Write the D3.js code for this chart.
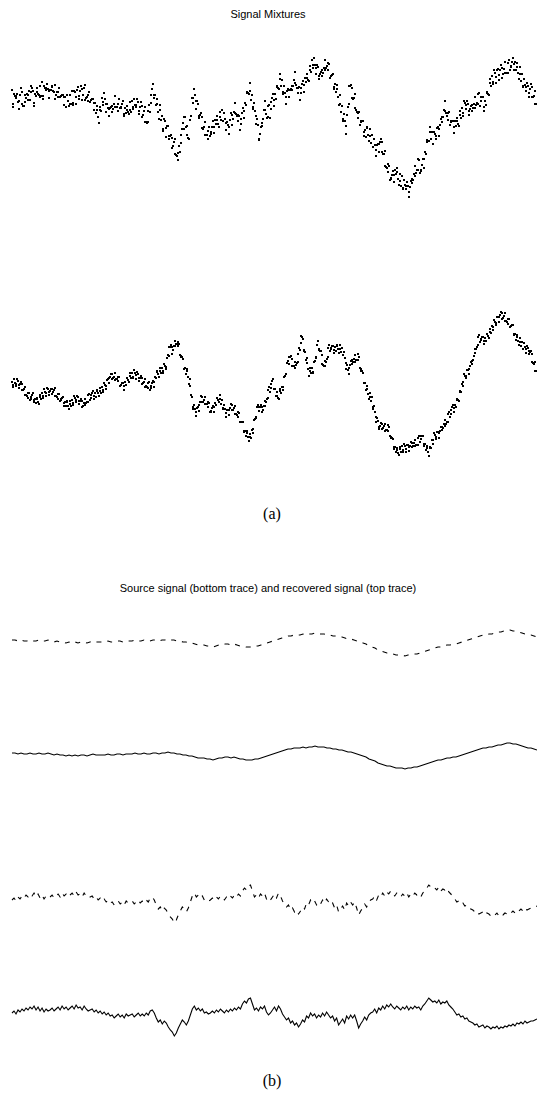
<!DOCTYPE html>
<html><head><meta charset="utf-8">
<script src="https://cdn.jsdelivr.net/npm/d3@7/dist/d3.min.js"></script>
<style>body{margin:0;background:#fff}svg{display:block}</style>
</head><body>
<script>
// Mixture 1 (dots), values in signal units (up positive)
const mixture1 = [
35,21,18,31,29,29,27,31,23,16,24,30,37,33,21,19,19,30,23,27,
31,25,30,34,25,33,39,37,34,19,22,31,29,37,33,31,30,39,28,29,
43,29,26,39,37,37,35,41,36,27,34,35,35,39,38,34,33,40,26,30,
33,28,33,37,28,29,29,30,30,20,28,28,18,30,30,24,19,30,21,21,
34,22,20,34,33,28,21,35,38,26,29,34,39,36,25,30,37,40,25,27,
28,24,30,33,23,25,25,26,26,15,22,22,12,19,15,8,2,18,15,14,
27,20,23,32,26,21,13,21,17,9,16,17,18,19,13,16,21,29,18,18,
18,14,21,26,17,18,17,21,24,9,11,17,12,19,15,13,11,23,15,13,
24,16,18,26,20,20,18,26,23,11,14,18,23,19,8,10,14,18,3,3,
2,3,14,20,13,22,30,36,41,27,30,30,20,26,21,13,6,20,15,5,
9,-4,-6,6,4,-3,-12,-1,-1,-14,-11,-11,-10,-13,-23,-21,-17,-14,-29,-30,
-31,-35,-28,-21,-27,-18,-10,-4,2,-4,8,8,-2,-1,-10,-13,-14,5,5,9,
27,22,27,36,30,24,16,24,21,7,9,10,12,8,-3,-4,-2,3,-10,-10,
-10,-14,-6,-2,-11,-9,-7,-2,4,-8,-2,5,1,9,5,1,-2,13,8,5,
15,4,4,12,6,2,-5,3,0,-9,-2,5,12,10,0,6,13,22,12,11,
9,4,10,9,-5,1,6,12,17,7,14,22,20,32,33,32,31,42,34,25,
30,18,16,22,14,9,1,6,0,-15,-14,-9,-2,2,-1,6,15,24,15,11,
7,8,19,20,7,16,23,27,31,19,25,31,26,38,39,37,36,51,46,39,
45,33,31,39,32,28,21,34,36,28,35,35,36,39,35,39,45,53,42,40,
37,32,37,38,25,32,37,41,44,33,40,47,43,51,47,45,44,59,55,53,
65,57,60,67,60,57,51,60,58,46,49,51,53,55,49,52,57,65,55,57,
59,55,62,61,47,49,49,50,51,36,38,41,33,40,36,28,20,30,21,13,
19,6,4,11,4,-1,-9,10,18,21,39,39,40,37,27,26,27,31,17,15,
13,7,12,13,0,3,4,4,4,-11,-7,-5,-12,-2,-3,-10,-16,-4,-11,-18,
-10,-22,-22,-14,-20,-25,-31,-20,-19,-27,-19,-17,-14,-17,-27,-29,-29,-26,-41,-42,
-43,-47,-39,-41,-55,-54,-53,-50,-46,-57,-50,-45,-49,-43,-47,-54,-60,-49,-56,-61,
-51,-63,-64,-55,-60,-61,-64,-57,-61,-72,-67,-62,-56,-54,-58,-55,-49,-41,-51,-48,
-45,-45,-34,-35,-48,-46,-45,-40,-34,-43,-34,-27,-29,-17,-15,-16,-16,-2,-7,-14,
-7,-19,-19,-7,-9,-11,-14,-3,-2,-11,-4,0,6,8,3,8,15,24,14,12,
9,5,12,13,0,3,4,4,4,-8,-2,4,-1,7,4,1,-1,14,10,7,
17,9,12,24,22,20,16,24,21,10,14,16,19,20,14,17,21,28,17,20,
22,21,31,32,19,24,28,28,28,14,18,24,20,32,33,31,30,46,42,39,
49,41,43,55,52,48,42,55,56,45,50,55,60,57,47,51,56,63,52,52,
52,52,62,65,55,58,59,63,67,55,61,63,55,62,58,52,46,58,51,44,
51,39,38,46,40,38,34,42,39,28,32,36,41,38,28,28,29,34,21,21];

// Mixture 2 (dots)
const mixture2 = [
13,8,10,16,12,11,9,16,14,7,10,11,13,11,5,5,6,8,0,0,
-1,-3,2,2,-5,-4,-2,0,2,-7,-5,-4,-8,-3,-4,-7,-9,0,-2,-4,
2,-3,-1,6,3,2,-1,7,6,0,3,4,6,6,1,3,5,7,-1,-1,
-2,-4,1,1,-6,-5,-4,-3,-2,-11,-8,-7,-11,-6,-7,-11,-14,-6,-9,-11,
-5,-10,-8,-1,-3,-5,-7,-1,-2,-9,-6,-6,-4,-6,-12,-11,-8,-4,-10,-8,
-7,-7,0,1,-5,-3,0,2,4,-4,-1,2,-2,5,4,2,-1,7,4,2,
8,3,5,12,10,9,6,15,16,12,17,18,21,21,16,17,18,22,15,16,
16,14,18,18,9,10,10,12,12,5,9,13,10,17,17,15,13,22,19,17,
22,17,18,25,22,20,16,23,21,14,17,17,19,17,11,12,13,16,8,9,
8,7,12,13,5,7,9,12,14,8,13,18,17,24,23,21,18,27,24,22,
27,22,24,31,29,28,26,37,40,39,48,48,50,48,41,45,49,54,49,51,
51,49,53,51,40,39,38,38,36,26,26,27,21,26,24,18,11,16,9,0,
-2,-12,-14,-10,-14,-17,-21,-13,-12,-16,-10,-7,-1,-2,-7,-7,-5,-2,-9,-9,
-9,-12,-7,-8,-17,-17,-16,-13,-11,-17,-12,-8,-10,-3,-3,-5,-7,0,-4,-9,
-5,-13,-14,-10,-14,-18,-22,-15,-15,-20,-15,-13,-9,-10,-15,-15,-13,-11,-19,-19,
-20,-22,-17,-18,-27,-27,-27,-27,-27,-37,-36,-36,-41,-36,-38,-42,-46,-39,-42,-43,
-35,-38,-34,-25,-24,-23,-22,-12,-10,-16,-12,-12,-10,-12,-17,-15,-11,-6,-11,-7,
-4,-3,5,8,3,7,11,14,16,6,6,6,-1,3,-1,-3,-4,6,4,2,
8,5,8,18,19,21,21,32,34,31,38,38,39,36,29,29,29,33,27,30,
32,33,41,47,45,52,59,58,56,45,44,43,35,37,32,26,19,27,24,22,
27,22,23,33,34,37,38,50,54,45,46,44,44,40,31,30,29,34,29,33,
36,38,47,50,44,46,47,49,49,42,45,48,44,50,49,46,42,50,46,43,
47,40,40,43,37,32,26,30,25,21,27,30,34,35,31,33,36,40,33,35,
35,35,41,38,27,26,24,24,22,12,12,12,5,9,6,1,-4,2,-2,-6,
-2,-12,-14,-11,-17,-22,-27,-23,-26,-34,-32,-31,-28,-29,-34,-33,-31,-29,-36,-35,
-35,-36,-30,-32,-41,-42,-43,-43,-44,-54,-52,-52,-57,-53,-55,-58,-60,-52,-54,-57,
-51,-57,-55,-49,-51,-54,-57,-50,-50,-56,-52,-51,-47,-48,-52,-51,-48,-45,-51,-50,
-50,-50,-43,-41,-47,-44,-41,-41,-41,-51,-49,-49,-55,-51,-53,-57,-61,-52,-53,-53,
-45,-49,-45,-38,-40,-42,-44,-37,-37,-43,-38,-36,-32,-32,-35,-33,-29,-25,-31,-29,
-27,-27,-19,-17,-22,-19,-15,-12,-10,-17,-13,-10,-12,-5,-4,-5,-6,4,3,3,
11,9,13,21,19,19,17,25,25,21,26,29,33,34,31,35,39,46,42,46,
48,50,58,60,53,55,56,58,58,51,54,57,54,61,61,59,57,66,63,62,
69,65,68,75,73,72,70,78,78,73,78,80,83,82,76,77,79,82,74,74,
73,71,76,76,68,69,69,70,70,60,61,61,55,60,58,54,50,57,53,49,
53,46,46,52,48,46,42,49,47,41,44,43,44,41,33,32,31,33,24,24];

// Source signal 1 (smooth)
const source1 = [1,1,0,1,0,0,1,0,0,1, 0,0,1,0,-1,0,-1,-1,-2,-1, -2,-1,-2,-1,-1,-2,-1,0,-1,-1, -1,-1,0,-1,-1,0,0,-1,0,0,
0,1,0,0,1,0,0,1,1,0, 1,1,2,1,1,0,0,-1,-1,-2, -2,-3,-4,-4,-4,-5,-5,-6,-5,-4, -4,-3,-3,-4,-3,-4,-5,-5,-6,-6,
-6,-5,-5,-4,-3,-2,-1,0,1,2, 3,4,5,5,6,6,6,7,6,7, 7,8,7,7,7,6,6,5,5,4, 4,3,2,2,1,0,-1,-2,-3,-5,
-6,-7,-9,-10,-11,-12,-12,-13,-14,-14, -14,-15,-14,-14,-13,-13,-12,-11,-10,-9, -8,-7,-6,-6,-5,-4,-4,-3,-3,-2,
-1,0,1,2,3,4,5,6,6,7, 7,8,9,9,10,11,11,10,10,9, 8,7,6,6,5,4];

// Source signal 2 (noisy)
const source2 = [-1,1,-2,2,0,3,1,4,2,5, 3,6,2,5,1,4,0,3,1,2, 4,1,3,5,2,6,3,5,2,4, 6,3,7,4,5,2,6,3,1,2,
3,0,2,-1,1,-2,0,-3,-1,-4, -3,-6,-4,-2,-5,-3,-6,-2,-4,-3, -2,-5,-3,-1,-4,-2,-4,-1,-3,1,
2,-1,-6,-10,-8,-12,-9,-11,-15,-18, -20,-24,-21,-16,-12,-8,-10,-13,-9,-3, 3,6,2,4,1,3,-1,0,-2,-1,
1,-1,2,0,3,1,-1,2,0,3, 1,4,2,5,3,8,11,9,13,14, 8,2,4,1,5,3,6,0,-3,-1, 2,5,1,6,3,-2,-5,-8,-6,-11,
-9,-13,-11,-15,-12,-8,-10,-4,-6,-1, -4,-2,-6,-3,-5,-1,-4,0,-3,-6, -4,-9,-6,-13,-10,-7,-11,-4,-7,-3,
-6,-3,-9,-16,-12,-9,-5,-8,-3,-1, 0,3,-1,4,2,6,3,7,5,8, 5,3,6,4,2,5,3,6,2,5, 3,6,4,5,2,6,8,11,14,12,
10,11,9,12,8,10,9,11,7,5, 3,0,-3,-2,-5,-4,-7,-6,-9,-10, -11,-13,-12,-15,-14,-13,-16,-14,-15,-17,
-15,-16,-14,-17,-15,-16,-14,-15,-13,-14, -12,-14,-11,-12,-10,-12,-9,-11,-10,-9, -9,-8,-7];

const titleA = "Signal Mixtures";
const titleB = "Source signal (bottom trace) and recovered signal (top trace)";
const captions = ["(a)", "(b)"];

const W = 537, H = 1101;
const svg = d3.select("body").append("svg").attr("width", W).attr("height", H);

function xs(arr, x0, x1){ return d3.scaleLinear().domain([0, arr.length-1]).range([x0, x1]); }
function ys(base){ return d3.scaleLinear().domain([-100, 100]).range([base+100, base-100]); }

// Mixtures as dots
function dots(arr, base){
  const x = xs(arr, 12, 536), y = ys(base);
  svg.append("g").attr("shape-rendering","crispEdges").selectAll("rect").data(arr).join("rect")
    .attr("x", (d,i)=>Math.round(x(i))-1).attr("y", d=>Math.round(y(d))-1)
    .attr("width", 2).attr("height", 2).attr("fill", "#000");
}
dots(mixture1, 125);
dots(mixture2, 395);

function trace(arr, base, dashed){
  const x = xs(arr, 12, 537), y = ys(base);
  const line = d3.line().x((d,i)=>x(i)).y(d=>y(d));
  const p = svg.append("path").datum(arr).attr("d", line)
    .attr("fill","none").attr("stroke","#000").attr("stroke-width",1.1);
  if (dashed) p.attr("stroke-dasharray","5,6");
}
trace(source1, 641, true);
trace(source1, 754, false);
trace(source2, 899, true);
trace(source2, 1012, false);

svg.append("text").attr("x", 268).attr("y", 18).attr("text-anchor","middle")
  .attr("font-family","Liberation Sans, Arial, sans-serif").attr("font-size",11).text(titleA);
svg.append("text").attr("x", 268).attr("y", 592).attr("text-anchor","middle")
  .attr("font-family","Liberation Sans, Arial, sans-serif").attr("font-size",11).text(titleB);
svg.append("text").attr("x", 272).attr("y", 519).attr("text-anchor","middle")
  .attr("font-family","Liberation Serif, Times New Roman, serif").attr("font-size",16).text(captions[0]);
svg.append("text").attr("x", 272).attr("y", 1086).attr("text-anchor","middle")
  .attr("font-family","Liberation Serif, Times New Roman, serif").attr("font-size",16).text(captions[1]);
</script>
</body></html>
